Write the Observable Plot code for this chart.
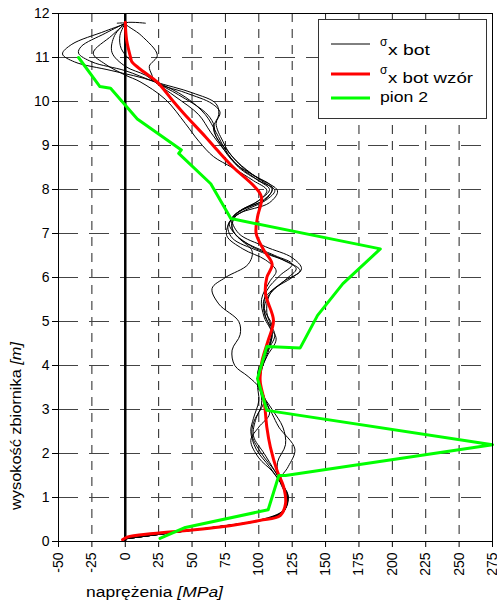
<!DOCTYPE html>
<html>
<head>
<meta charset="utf-8">
<script src="https://cdn.jsdelivr.net/npm/d3@7"></script>
<script src="https://cdn.jsdelivr.net/npm/@observablehq/plot@0.6"></script>
<style>
  html, body { margin: 0; padding: 0; background: #fff; }
  svg { display: block; }
</style>
</head>
<body>
<script>
// Tick values
const xTicks = [-50, -25, 0, 25, 50, 75, 100, 125, 150, 175, 200, 225, 250, 275];
const yTicks = [0, 1, 2, 3, 4, 5, 6, 7, 8, 9, 10, 11, 12];

// Series names
const seriesNames = ["σx bot", "σx bot wzór", "pion 2"];

// σx bot — several numerical curves [stress MPa, height m]
const b1 = [[-6,11.78],[0,11.78],[-15,11.6],[-40,11.3],[-47,11.08],[-38,10.9],[-10,10.7],[22,10.45],[45,10.1],[60,9.7],[68,9.3],[75,8.9],[85,8.5],[100,8.2],[112,7.98],[105,7.75],[88,7.5],[80,7.3],[82,7.0],[95,6.7],[118,6.4],[128,6.2],[120,5.95],[108,5.6],[106,5.2],[110,4.8],[108,4.4],[103,4.0],[101,3.6],[104,3.2],[98,2.8],[96,2.4],[104,2.0],[112,1.6],[118,1.25],[121,0.95],[118,0.65],[100,0.48],[65,0.32],[30,0.18],[0,0.06]];
const b2 = [[0,11.78],[-15,11.55],[-33,11.25],[-35,11.1],[-25,10.9],[0,10.7],[22,10.45],[50,10.2],[68,9.95],[70,9.7],[66,9.4],[72,9.0],[82,8.6],[100,8.25],[114,7.97],[108,7.7],[85,7.45],[77,7.2],[80,6.9],[100,6.6],[122,6.35],[131,6.15],[118,5.9],[104,5.5],[105,5.1],[112,4.7],[106,4.3],[100,3.8],[103,3.3],[110,2.9],[115,2.6],[127,2.1],[122,1.7],[116,1.4],[120,1.05],[119,0.7],[105,0.5],[70,0.33],[30,0.18],[0,0.06]];
const b3 = [[0,11.78],[-10,11.5],[-24,11.1],[-15,10.85],[0,10.6],[11,10.45],[30,10.05],[45,9.5],[55,9.1],[66,8.75],[80,8.5],[96,8.2],[106,7.98],[100,7.75],[85,7.5],[78,7.25],[76,6.95],[88,6.65],[105,6.4],[113,6.15],[108,5.9],[102,5.5],[104,5.1],[110,4.7],[104,4.2],[99,3.8],[104,3.3],[108,2.9],[100,2.6],[94,2.3],[100,1.9],[110,1.6],[117,1.3],[122,1.0],[118,0.7],[102,0.5],[68,0.33],[30,0.18],[0,0.06]];
const b4 = [[0,11.78],[-8,11.5],[-10,11.12],[0,10.8],[15,10.6],[22,10.45],[40,10.15],[60,9.75],[66,9.5],[68,9.2],[76,8.9],[88,8.5],[102,8.2],[110,8.0],[103,7.75],[84,7.45],[80,7.1],[90,6.8],[112,6.5],[125,6.3],[116,6.05],[106,5.7],[104,5.3],[110,4.9],[108,4.5],[102,4.0],[99,3.6],[100,3.2],[96,2.8],[94,2.5],[98,2.1],[108,1.7],[116,1.35],[122,1.05],[119,0.7],[104,0.5],[68,0.33],[30,0.18],[0,0.06]];
const b5 = [[0,11.78],[-4,11.5],[-3,11.2],[5,10.9],[15,10.65],[22,10.45],[38,10.1],[55,9.7],[64,9.3],[74,8.9],[86,8.5],[100,8.2],[108,8.0],[100,7.75],[83,7.45],[78,7.2],[85,6.9],[95,6.6],[92,6.3],[75,6.0],[65,5.75],[70,5.4],[85,5.0],[86,4.7],[80,4.35],[82,4.0],[92,3.75],[100,3.5],[102,3.1],[96,2.7],[95,2.4],[102,2.0],[112,1.6],[118,1.3],[121,1.0],[119,0.7],[104,0.5],[68,0.33],[30,0.18],[0,0.06]];
const b6 = [[15,11.78],[0,11.78],[12,11.5],[24,11.05],[18,10.8],[20,10.6],[22,10.45],[45,10.2],[65,9.95],[71,9.75],[68,9.5],[73,9.1],[80,8.75],[95,8.35],[110,8.05],[106,7.8],[88,7.55],[80,7.35],[85,7.0],[105,6.7],[125,6.45],[132,6.2],[125,6.0],[110,5.7],[104,5.3],[108,4.9],[113,4.6],[106,4.2],[101,3.8],[102,3.4],[110,3.0],[118,2.6],[120,2.2],[114,1.8],[115,1.45],[121,1.1],[120,0.75],[106,0.52],[72,0.34],[30,0.18],[0,0.06]];
const blackCurves = [b1, b2, b3, b4, b5, b6];

// σx bot wzór
const redCurve = [[0,11.8],[1,11.4],[4,11.0],[5,10.9],[14,10.67],[24,10.44],[36,10.0],[44,9.72],[60,9.2],[69,8.89],[81,8.5],[96,8.09],[102,7.83],[99,7.37],[98,7.0],[104,6.61],[110,6.3],[106,6.0],[105,5.63],[111,5.02],[107,4.57],[102.5,4.11],[101,3.66],[104,3.2],[106,2.6],[108.7,2.14],[113.7,1.61],[118.7,1.23],[120,0.86],[116,0.59],[101,0.48],[71,0.33],[46,0.25],[21,0.18],[1.4,0.1],[-2,0.04]];

// pion 2
const greenLine = [[-35,11.0],[-19,10.34],[-11,10.3],[9,9.6],[42,8.9],[40,8.82],[64,8.13],[77,7.45],[79,7.34],[191,6.65],[163,5.86],[144,5.14],[131,4.4],[106,4.43],[99,3.7],[106,2.98],[275,2.2],[120,1.5],[115,1.5],[107,0.72],[45,0.32],[26,0.07]];

const blackData = blackCurves.flatMap((c, i) => c.map(([x, y]) => ({id: i, x, y})));
const redData = redCurve.map(([x, y]) => ({x, y}));
const greenData = greenLine.map(([x, y]) => ({x, y}));

const FONT = "'Liberation Sans', Arial, Helvetica, sans-serif";

const svg = Plot.plot({
  width: 497,
  height: 605,
  marginLeft: 58,
  marginRight: 5,
  marginTop: 13,
  marginBottom: 64,
  style: {fontFamily: FONT, fontSize: "14px", color: "black", background: "white"},
  x: {domain: [-50, 275]},
  y: {domain: [0, 12]},
  marks: [
    Plot.ruleX(xTicks, {stroke: "#222", strokeWidth: 1, strokeDasharray: "9,7"}),
    Plot.ruleY(yTicks, {stroke: "#444", strokeWidth: 1, strokeDasharray: "20,11"}),
    Plot.ruleX([0], {stroke: "black", strokeWidth: 2.5}),
    Plot.line(blackData, {x: "x", y: "y", z: "id", curve: "catmull-rom", stroke: "black", strokeWidth: 1}),
    Plot.line(redData, {x: "x", y: "y", curve: "catmull-rom", stroke: "#ff0000", strokeWidth: 3}),
    Plot.line(greenData, {x: "x", y: "y", curve: "linear", stroke: "#00ff00", strokeWidth: 3}),
    Plot.frame({stroke: "black", strokeWidth: 1}),
    Plot.axisY({ticks: yTicks, tickSize: 6, tickPadding: 3, fontSize: 14, label: null, tickFormat: d => String(d)}),
    Plot.axisX({ticks: xTicks, tickSize: 6, tickPadding: 5, tickRotate: -90, fontSize: 14, label: null, tickFormat: d => String(d)})
  ]
});
document.body.appendChild(svg);

const s = d3.select(svg);

// X axis title
const xl = s.append("text")
  .attr("x", 86).attr("y", 597).attr("text-anchor", "start")
  .attr("font-family", FONT).attr("font-size", 14).attr("fill", "black")
  .attr("textLength", 137).attr("lengthAdjust", "spacingAndGlyphs");
xl.append("tspan").text("naprężenia ");
xl.append("tspan").attr("font-style", "italic").text("[MPa]");

// Y axis title
const yl = s.append("text")
  .attr("transform", "translate(21,510) rotate(-90)").attr("text-anchor", "start")
  .attr("font-family", FONT).attr("font-size", 14).attr("fill", "black")
  .attr("textLength", 168).attr("lengthAdjust", "spacingAndGlyphs");
yl.append("tspan").text("wysokość zbiornika ");
yl.append("tspan").attr("font-style", "italic").text("[m]");

// Legend
const lg = s.append("g").attr("font-family", FONT).attr("fill", "black").attr("text-anchor", "start");
lg.append("rect").attr("x", 318.5).attr("y", 19.5).attr("width", 168).attr("height", 99)
  .attr("fill", "white").attr("stroke", "#333").attr("stroke-width", 1);
const entries = [
  {color: "black", w: 1, ly: 44, sigma: true, sy: 46, ty: 55, label: "x bot", len: 42},
  {color: "#ff0000", w: 3, ly: 74, sigma: true, sy: 74, ty: 83, label: "x bot wzór", len: 85},
  {color: "#00ff00", w: 3, ly: 98, sigma: false, ty: 102, label: seriesNames[2], len: 48}
];
for (const e of entries) {
  lg.append("line").attr("x1", 331).attr("x2", 370).attr("y1", e.ly).attr("y2", e.ly)
    .attr("stroke", e.color).attr("stroke-width", e.w);
  if (e.sigma) {
    lg.append("text").attr("x", 380).attr("y", e.sy).attr("font-size", 12).text("σ");
    lg.append("text").attr("x", 388).attr("y", e.ty).attr("font-size", 15)
      .attr("textLength", e.len).attr("lengthAdjust", "spacingAndGlyphs").text(e.label);
  } else {
    lg.append("text").attr("x", 380).attr("y", e.ty).attr("font-size", 15)
      .attr("textLength", e.len).attr("lengthAdjust", "spacingAndGlyphs").text(e.label);
  }
}
</script>
</body>
</html>
